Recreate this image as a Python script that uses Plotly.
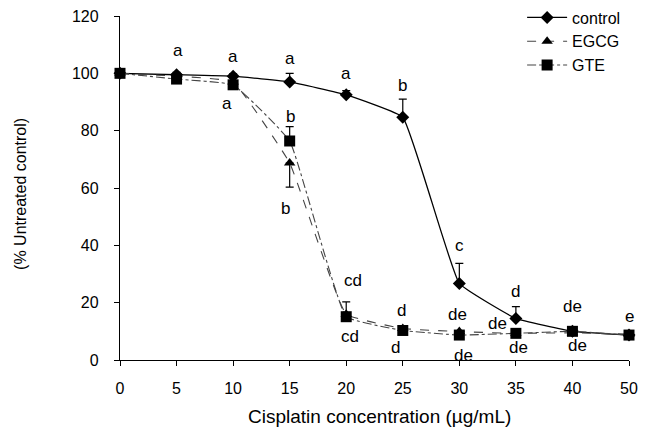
import plotly.graph_objects as go

categories = ["0", "5", "10", "15", "20", "25", "30", "35", "40", "50"]
control = [100, 99.5, 99, 97, 92.5, 84.7, 26.7, 14.5, 10, 8.7]
control_err = [0, 0.8, 0.8, 3, 1.5, 6.3, 7, 4.1, 0.8, 0.8]
egcg = [100, 99, 97, 68.7, 16, 11, 9.9, 9.3, 9.5, 9]
egcg_err = [0, 0.5, 0.8, 8.4, 1, 0.8, 0.8, 0.5, 0.5, 0.5]
gte = [100, 98, 96, 76.4, 15.1, 10.3, 8.7, 9.3, 10, 8.7]
gte_err = [0, 0.5, 0.8, 5, 5.2, 0.8, 0.5, 0.5, 0.5, 0.5]

# significance letters: (text, x position in category index units, y value)
letters = [
    ("a", 1.03, 108.1), ("a", 2.0, 105.8), ("a", 3.0, 105.2), ("a", 4.0, 99.8),
    ("b", 5.0, 95.9), ("c", 6.0, 39.8), ("d", 7.0, 23.8), ("de", 8.0, 18.8),
    ("e", 9.0, 15.3),
    ("a", 1.89, 89.5), ("b", 3.02, 85.1), ("b", 2.92, 53.0),
    ("cd", 4.12, 27.9), ("cd", 4.07, 8.1), ("d", 4.97, 17.4), ("d", 4.88, 4.2),
    ("de", 5.97, 15.7), ("de", 6.07, 1.4), ("de", 6.68, 12.6), ("de", 7.04, 4.5),
    ("de", 8.09, 5.2),
]

font = "Liberation Sans, Arial, sans-serif"
SMOOTH = 0.3

fig = go.Figure()
fig.add_trace(go.Scatter(
    x=categories, y=control, name="control", mode="lines+markers",
    line=dict(color="black", width=1.3, shape="spline", smoothing=SMOOTH),
    marker=dict(symbol="diamond", size=10, color="black"),
    error_y=dict(type="data", array=control_err, arrayminus=[0]*len(control),
                 symmetric=False, color="black", thickness=1.2, width=4),
    cliponaxis=False,
))
fig.add_trace(go.Scatter(
    x=categories, y=egcg, name="EGCG", mode="lines+markers",
    line=dict(color="#444444", width=1.1, dash="dash", shape="spline", smoothing=SMOOTH),
    marker=dict(symbol="triangle-up", size=10, color="black"),
    error_y=dict(type="data", array=[0]*len(egcg), arrayminus=egcg_err,
                 symmetric=False, color="black", thickness=1.2, width=4),
    cliponaxis=False,
))
fig.add_trace(go.Scatter(
    x=categories, y=gte, name="GTE", mode="lines+markers",
    line=dict(color="#444444", width=1.1, dash="dashdot", shape="spline", smoothing=SMOOTH),
    marker=dict(symbol="square", size=11, color="black"),
    error_y=dict(type="data", array=gte_err, arrayminus=[0]*len(gte),
                 symmetric=False, color="black", thickness=1.2, width=4),
    cliponaxis=False,
))

for t, x, y in letters:
    fig.add_annotation(x=x, y=y, text=t, showarrow=False, xref="x", yref="y",
                       font=dict(size=17, color="black", family=font))

fig.add_annotation(x=-0.215, y=0.483, xref="paper", yref="paper",
                   text="(% Untreated control)", textangle=-90, showarrow=False,
                   font=dict(size=16, color="black", family=font))
fig.add_annotation(x=0.51, y=-0.163, xref="paper", yref="paper",
                   text="Cisplatin concentration (µg/mL)", showarrow=False,
                   font=dict(size=19, color="black", family=font), yanchor="middle")

fig.update_layout(
    width=649, height=428,
    margin=dict(l=120, r=20, t=16, b=68, autoexpand=False),
    paper_bgcolor="white", plot_bgcolor="white",
    font=dict(family=font, size=16, color="black"),
    showlegend=True,
    legend=dict(x=0.79, y=1.045, xanchor="left", yanchor="top",
                bgcolor="rgba(0,0,0,0)", font=dict(size=16),
                itemwidth=40, tracegroupgap=0),
    xaxis=dict(type="category", range=[0, 9], showline=True, linecolor="black",
               linewidth=1.3, ticks="outside", ticklen=5, tickcolor="black",
               showgrid=False, zeroline=False, ticklabelstandoff=9),
    yaxis=dict(range=[0, 120], tickvals=[0, 20, 40, 60, 80, 100, 120],
               showline=True, linecolor="black", linewidth=1.3, ticks="outside",
               ticklen=5, tickcolor="black", showgrid=False, zeroline=False,
               ticklabelstandoff=12),
)

fig.write_html("out.html")
